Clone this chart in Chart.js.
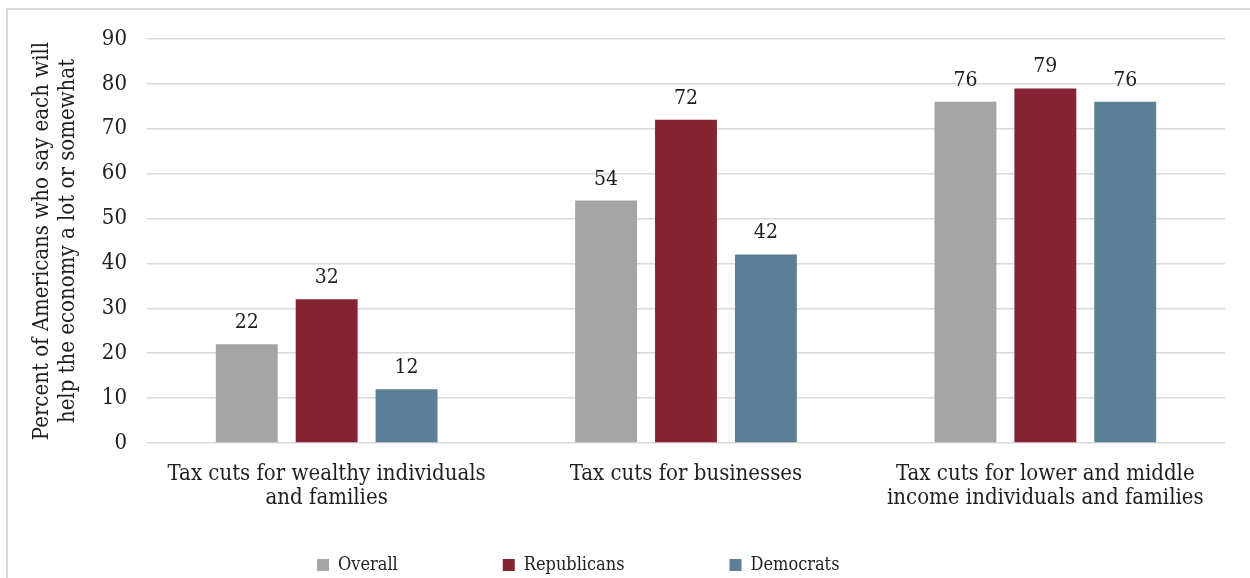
<!DOCTYPE html>
<html>
<head>
<meta charset="utf-8">
<script src="https://cdn.jsdelivr.net/npm/chart.js@4"></script>
<style>
  html, body { margin: 0; padding: 0; background: #fff; }
  #wrap { position: relative; width: 1250px; height: 578px; overflow: hidden; }
  #frame { position: absolute; left: 6px; top: 8px; width: 1260px; height: 600px; border: 2px solid #D9D9D9; box-sizing: border-box; }
  #chart { position: absolute; left: 0; top: 0; }
</style>
</head>
<body>
<div id="wrap">
  <div id="frame"></div>
  <canvas id="chart" width="1250" height="578"></canvas>
</div>
<script>
// Categorias e valores
const categorias = [
  ['Tax cuts for wealthy individuals', 'and families'],
  'Tax cuts for businesses',
  ['Tax cuts for lower and middle', 'income individuals and families']
];
const overall = [22, 54, 76];
const republicans = [32, 72, 79];
const democrats = [12, 42, 76];
const yTicks = [0, 10, 20, 30, 40, 50, 60, 70, 80, 90];

const FONTE = "'DejaVu Serif Condensed', 'DejaVu Serif', serif";
const COR_TEXTO = '#1f1f1f';

/**
 * Desenha o valor acima de cada barra
 */
const rotulosPlugin = {
  id: 'rotulos',
  afterDatasetsDraw(chart) {
    const ctx = chart.ctx;
    ctx.save();
    ctx.font = `21px ${FONTE}`;
    ctx.fillStyle = COR_TEXTO;
    ctx.textAlign = 'center';
    ctx.textBaseline = 'alphabetic';
    chart.data.datasets.forEach((ds, i) => {
      const meta = chart.getDatasetMeta(i);
      meta.data.forEach((bar, j) => {
        ctx.fillText(ds.data[j], bar.x, bar.y - 16);
      });
    });
    ctx.restore();
  }
};

/**
 * Posiciona a legenda como no original
 */
const legendaPlugin = {
  id: 'legendaPos',
  afterLayout(chart) {
    const lg = chart.legend;
    const pad = lg.options.labels.padding;
    lg.left = 317 - pad;
    lg.top = 565 - pad - 9;
  }
};

const ctx = document.getElementById('chart').getContext('2d');
new Chart(ctx, {
  type: 'bar',
  data: {
    labels: categorias,
    datasets: [
      { label: 'Overall', data: overall, backgroundColor: '#A5A5A5' },
      { label: 'Republicans', data: republicans, backgroundColor: '#852432' },
      { label: 'Democrats', data: democrats, backgroundColor: '#5B7F95' }
    ]
  },
  options: {
    responsive: false,
    animation: false,
    devicePixelRatio: 1,
    layout: { padding: { top: 39, right: 25, bottom: 0, left: 0 } },
    datasets: {
      bar: { categoryPercentage: 0.667, barPercentage: 0.775 }
    },
    plugins: {
      legend: {
        position: 'bottom',
        align: 'start',
        maxHeight: 50,
        labels: {
          boxWidth: 12,
          boxHeight: 12,
          padding: 105,
          color: COR_TEXTO,
          font: { family: FONTE, size: 18 }
        }
      },
      tooltip: { enabled: false }
    },
    scales: {
      x: {
        grid: { display: false },
        border: { display: false },
        ticks: {
          color: COR_TEXTO,
          padding: 11,
          maxRotation: 0,
          autoSkip: false,
          font: { family: FONTE, size: 22, lineHeight: 1.1 }
        },
        afterFit(scale) { scale.height = 85; }
      },
      y: {
        min: 0,
        max: 90,
        afterBuildTicks(scale) { scale.ticks = yTicks.map(v => ({ value: v })); },
        grid: { color: '#D9D9D9', lineWidth: 1.5, drawTicks: false },
        border: { display: false },
        ticks: {
          color: COR_TEXTO,
          padding: 20,
          font: { family: FONTE, size: 22 }
        },
        title: {
          display: true,
          text: ['Percent of Americans who say each will', 'help the economy a lot or somewhat'],
          color: COR_TEXTO,
          padding: { top: 30, bottom: 0 },
          font: { family: FONTE, size: 22, lineHeight: 1.15 }
        },
        afterFit(scale) { scale.width = 147; }
      }
    }
  },
  plugins: [rotulosPlugin, legendaPlugin]
});
</script>
</body>
</html>
